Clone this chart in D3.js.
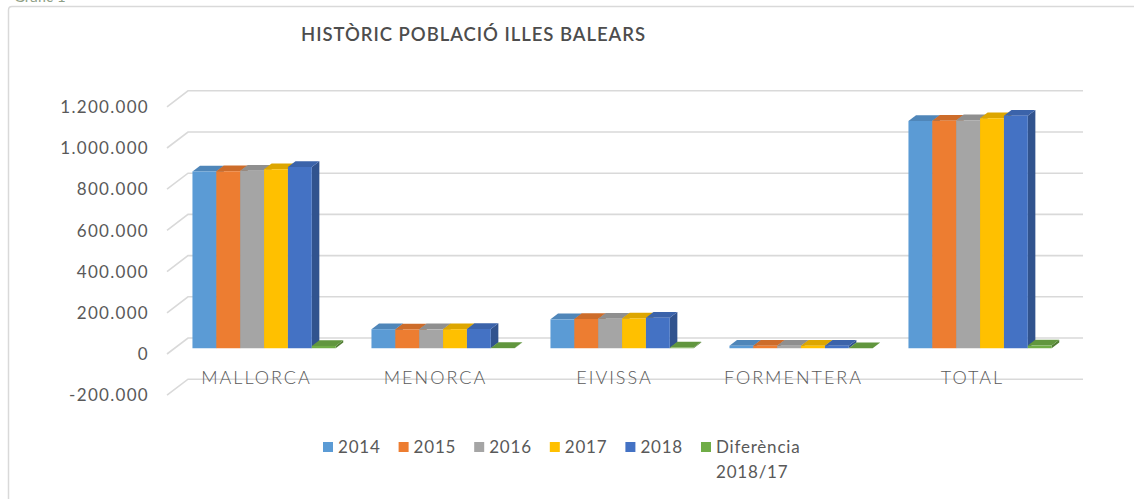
<!DOCTYPE html>
<html>
<head>
<meta charset="utf-8">
<script src="https://cdn.jsdelivr.net/npm/d3@7"></script>
<style>
  body { margin: 0; background: #fff; }
  text { font-family: Lato, "Open Sans", sans-serif; fill: #595959; }
</style>
</head>
<body>
<div id="chart"></div>
<script>
// data
var categories = ["MALLORCA", "MENORCA", "EIVISSA", "FORMENTERA", "TOTAL"];
var seriesNames = ["2014", "2015", "2016", "2017", "2018", "Diferència 2018/17"];
var values2014 = [858313, 92434, 140271, 11936, 1103442];
var values2015 = [859289, 91170, 142065, 12111, 1104479];
var values2016 = [861430, 91601, 142991, 11878, 1107220];
var values2017 = [868693, 92434, 144659, 12216, 1115999];
var values2018 = [880113, 93397, 147914, 12216, 1128908];
var valuesDiff = [11420, 963, 3255, 120, 12909];
var seriesColors = ["#5b9bd5", "#ed7d31", "#a5a5a5", "#ffc000", "#4472c4", "#70ad47"];
var yTicks = [-200000, 0, 200000, 400000, 600000, 800000, 1000000, 1200000];

var allSeries = [values2014, values2015, values2016, values2017, values2018, valuesDiff];

var width = 1134, height = 499;
var svg = d3.select("#chart").append("svg")
    .attr("width", width)
    .attr("height", height);

svg.append("rect").attr("width", width).attr("height", height).attr("fill", "#fff");

// chart border (only left and top edges are in the picture)
svg.append("path")
    .attr("d", "M8.5,499 L8.5,10 Q8.5,6.5 12,6.5 L1134,6.5")
    .attr("fill", "none")
    .attr("stroke", "#d9d9d9")
    .attr("stroke-width", 1.5);

// caption of the document, cut by the top edge as in the source
svg.append("text")
    .attr("x", 14).attr("y", 2)
    .attr("font-size", 15)
    .style("fill", "#8fa086")
    .text("Gràfic 1");

// 3d geometry
var floorX0 = 167, floorX1 = 1062;
var depthX = 21, depthY = -16;
var barT0 = 0.36, barT1 = 0.72;

var y = d3.scaleLinear().domain([-200000, 1200000]).range([395.2, 106.8]);
var x = d3.scaleBand().domain(categories).range([floorX0, floorX1]);
var xInner = d3.scaleBand().domain(seriesNames)
    .range([x.bandwidth() * 0.1, x.bandwidth() * 0.9]);

function proj(px, v, t) {
  return [px + t * depthX, y(v) + t * depthY];
}
function poly(pts) {
  return "M" + pts.map(function(p) { return p[0] + "," + p[1]; }).join("L") + "Z";
}

// gridlines
var grid = svg.append("g");
yTicks.forEach(function(v) {
  var a = proj(floorX0, v, 0), b = proj(floorX0, v, 1), c = proj(floorX1, v, 1);
  grid.append("path")
      .attr("d", "M" + a + "L" + b + "L" + c)
      .attr("fill", "none")
      .attr("stroke", "#d9d9d9")
      .attr("stroke-width", 1.6);
});

// y labels
svg.append("g").selectAll("text").data(yTicks).enter()
  .append("text")
    .attr("x", 149)
    .attr("y", function(d) { return y(d); })
    .attr("dy", "0.36em")
    .attr("text-anchor", "end")
    .attr("font-size", 17)
    .attr("letter-spacing", 1.3)
    .text(function(d) { return d3.format(",")(d).replace(/,/g, ".").replace("−", "-"); });

// bars, left to right
var bars = svg.append("g");
categories.forEach(function(cat, ci) {
  seriesNames.forEach(function(s, si) {
    var v = allSeries[si][ci];
    var xl = x(cat) + xInner(s), xr = xl + xInner.bandwidth();
    var col = d3.rgb(seriesColors[si]);
    bars.append("path")
        .attr("d", poly([proj(xr, 0, barT0), proj(xr, v, barT0), proj(xr, v, barT1), proj(xr, 0, barT1)]))
        .attr("fill", col.darker(0.9));
    bars.append("path")
        .attr("d", poly([proj(xl, v, barT0), proj(xr, v, barT0), proj(xr, v, barT1), proj(xl, v, barT1)]))
        .attr("fill", col.darker(0.4));
    bars.append("path")
        .attr("d", poly([proj(xl, 0, barT0), proj(xr, 0, barT0), proj(xr, v, barT0), proj(xl, v, barT0)]))
        .attr("fill", col);
  });
});

// category labels
svg.append("g").selectAll("text").data(categories).enter()
  .append("text")
    .attr("x", function(d) { return x(d) + x.bandwidth() / 2; })
    .attr("y", 384)
    .attr("text-anchor", "middle")
    .attr("font-size", 18)
    .attr("font-weight", 300)
    .attr("letter-spacing", 2)
    .text(function(d) { return d; });

// title
svg.append("text")
    .attr("x", 473).attr("y", 41)
    .attr("text-anchor", "middle")
    .attr("font-size", 18.5)
    .attr("font-weight", 600)
    .attr("textLength", 344)
    .attr("lengthAdjust", "spacing")
    .style("fill", "#4d4d4d")
    .text("HISTÒRIC POBLACIÓ ILLES BALEARS");

// legend
var legend = svg.append("g");
var legendStep = 75.6;
seriesNames.forEach(function(s, i) {
  var lx = 323 + i * legendStep;
  legend.append("rect")
      .attr("x", lx).attr("y", 442)
      .attr("width", 10).attr("height", 10)
      .attr("fill", seriesColors[i]);
  var t = legend.append("text")
      .attr("x", lx + 15).attr("y", 453)
      .attr("font-size", 17)
      .attr("letter-spacing", 0.8);
  var parts = s.split(" ");
  t.append("tspan").attr("x", lx + 15).text(parts[0]);
  if (parts[1]) t.append("tspan").attr("x", lx + 15).attr("dy", 25).text(parts[1]);
});
</script>
</body>
</html>
